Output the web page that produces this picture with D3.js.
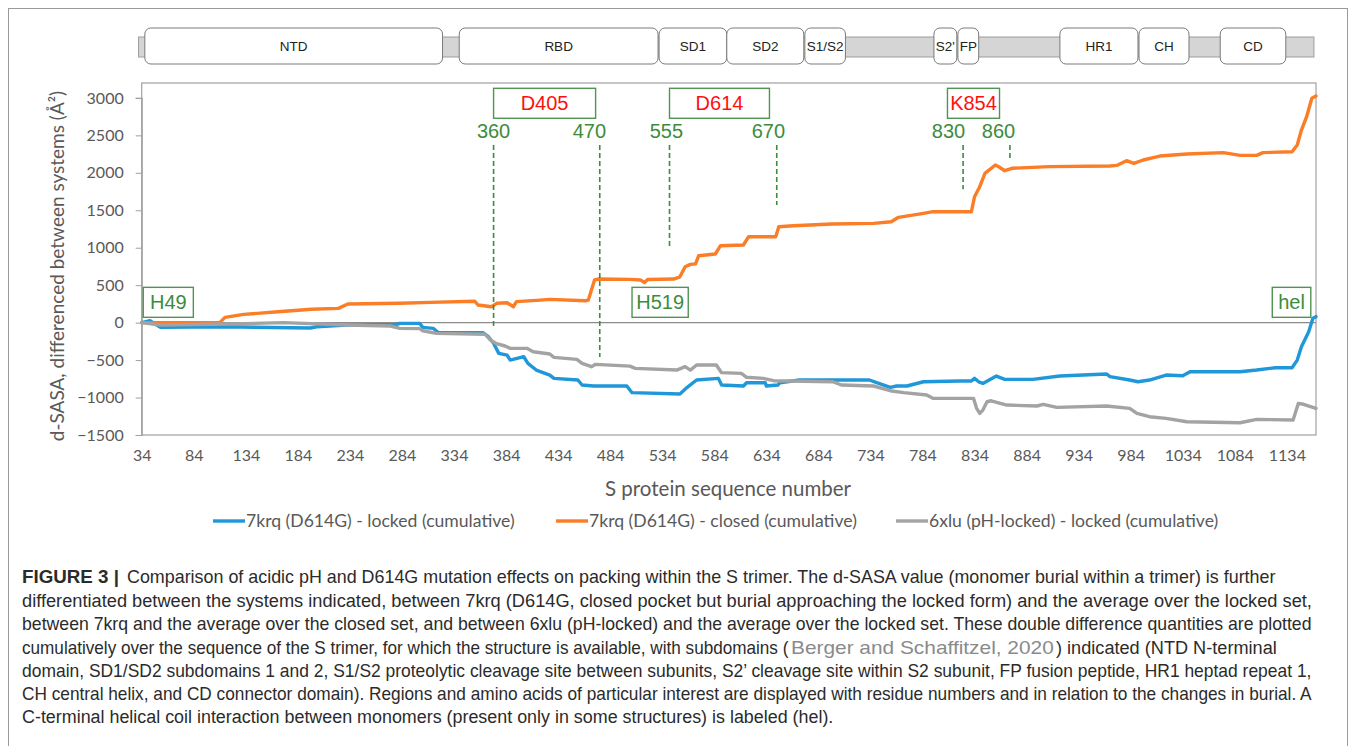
<!DOCTYPE html>
<html>
<head>
<meta charset="utf-8">
<script src="https://cdn.jsdelivr.net/npm/d3@7"></script>
<style>
  html, body { margin: 0; padding: 0; background: #fff; }
  svg { display: block; }
</style>
</head>
<body>
<svg id="fig" width="1355" height="746"></svg>
<script>
// ---- Axis ticks ----
const xTicks = [34, 84, 134, 184, 234, 284, 334, 384, 434, 484, 534, 584, 634, 684, 734, 784, 834, 884, 934, 984, 1034, 1084, 1134];
const yTicks = [-1500, -1000, -500, 0, 500, 1000, 1500, 2000, 2500, 3000];

// ---- Cumulative d-SASA series (axis position, value) ----
const lockedPos = [34, 42, 52, 114, 196, 202, 231, 279, 282, 301, 304, 314, 319, 362, 367, 372, 377, 385, 388, 401, 405, 413, 426, 430, 453, 457, 468, 500, 505, 551, 558, 567, 588, 591, 612, 615, 633, 634, 645, 647, 666, 733, 740, 753, 759, 769, 785, 820, 831, 834, 838, 842, 855, 863, 890, 916, 961, 964, 983, 991, 1002, 1018, 1034, 1041, 1089, 1105, 1123, 1139, 1144, 1148, 1155, 1159, 1162];
const lockedVal = [0, 25, -63, -55, -72, -55, -32, -23, -10, -10, -63, -76, -135, -135, -188, -276, -410, -433, -500, -455, -543, -633, -700, -744, -766, -833, -846, -846, -935, -953, -864, -766, -744, -833, -846, -802, -802, -846, -833, -802, -766, -766, -802, -864, -846, -846, -789, -780, -780, -744, -790, -811, -713, -757, -757, -713, -686, -720, -766, -789, -766, -700, -710, -655, -655, -633, -602, -602, -500, -322, -121, 57, 80];

const closedPos = [34, 109, 114, 132, 165, 197, 223, 232, 282, 311, 354, 357, 370, 375, 385, 391, 394, 417, 426, 460, 463, 469, 473, 503, 513, 517, 520, 545, 551, 556, 561, 566, 569, 585, 590, 612, 617, 643, 646, 660, 697, 737, 754, 761, 785, 794, 831, 834, 839, 844, 854, 858, 863, 870, 906, 964, 971, 980, 987, 996, 1012, 1038, 1073, 1089, 1105, 1111, 1139, 1144, 1148, 1153, 1158, 1162];
const closedVal = [0, 0, 70, 110, 145, 178, 190, 248, 258, 270, 285, 235, 212, 258, 265, 212, 280, 300, 310, 292, 300, 570, 582, 578, 570, 535, 575, 582, 612, 746, 778, 785, 893, 916, 1027, 1036, 1147, 1147, 1280, 1294, 1316, 1325, 1347, 1406, 1459, 1481, 1481, 1681, 1815, 1993, 2104, 2074, 2028, 2060, 2082, 2091, 2100, 2162, 2127, 2171, 2224, 2251, 2269, 2233, 2233, 2269, 2282, 2371, 2571, 2749, 2995, 3025];

const phLockedPos = [34, 52, 119, 170, 231, 273, 282, 301, 304, 317, 364, 369, 374, 383, 388, 404, 410, 426, 430, 452, 457, 466, 470, 503, 508, 548, 556, 561, 567, 586, 591, 610, 615, 631, 641, 698, 706, 737, 753, 766, 788, 794, 833, 836, 839, 842, 846, 850, 865, 894, 900, 913, 961, 983, 990, 1002, 1018, 1038, 1089, 1105, 1140, 1145, 1150, 1162];
const phLockedVal = [0, -32, -19, 0, -32, -45, -76, -80, -108, -143, -156, -232, -276, -312, -343, -343, -388, -419, -464, -490, -543, -588, -557, -580, -610, -633, -588, -633, -566, -566, -668, -677, -730, -744, -775, -789, -833, -846, -909, -935, -966, -1011, -1011, -1144, -1211, -1167, -1056, -1043, -1100, -1113, -1090, -1131, -1113, -1144, -1211, -1256, -1278, -1323, -1336, -1291, -1300, -1078, -1090, -1144];

const seriesNames = ["7krq (D614G) - locked (cumulative)", "7krq (D614G) - closed (cumulative)", "6xlu (pH-locked) - locked (cumulative)"];
const seriesColors = ["#1f97d9", "#fb7d26", "#a3a3a3"];

// ---- S protein domain map ----
const domainNames = ["NTD", "RBD", "SD1", "SD2", "S1/S2", "S2'", "FP", "HR1", "CH", "CD"];
const domainStart = [37, 339, 531, 596, 671, 795, 818, 916, 992, 1070];
const domainEnd = [323, 530, 596, 670, 710, 817, 838, 991, 1040, 1133];
const chainExtent = [31, 1160];

// ---- Residue markers (dashed guides) ----
const markerLabels = ["360", "470", "555", "670", "830", "860"];
const markerPos = [372, 474, 541, 644, 823, 868];
const markerLabelPos = [372, 464, 538, 636, 809, 857];
const markerLow = [-72, -459, 1013, 1570, 1780, 2194];
const markerHigh = 2371;
const markerLabelVal = 2463;

// ---- Labelled residues / regions ----
const boxLabels = ["H49", "D405", "D614", "K854", "H519", "hel"];
const boxStart = [35.5, 372, 541, 808, 505, 1120];
const boxEnd = [83.6, 470, 637, 858, 559, 1157];
const boxLow = [71, 2728, 2728, 2728, 71, 71];
const boxHigh = [471, 3128, 3128, 3128, 471, 471];
const boxIsMutation = [false, true, true, true, false, false];

// ---- Caption (text runs with their horizontal span) ----
const captionLines = [
  [{t: "FIGURE 3 |", x0: 22, x1: 119, w: "bold"}, {t: "Comparison of acidic pH and D614G mutation effects on packing within the S trimer. The d-SASA value (monomer burial within a trimer) is further", x0: 127, x1: 1276}],
  [{t: "differentiated between the systems indicated, between 7krq (D614G, closed pocket but burial approaching the locked form) and the average over the locked set,", x0: 22, x1: 1312}],
  [{t: "between 7krq and the average over the closed set, and between 6xlu (pH-locked) and the average over the locked set. These double difference quantities are plotted", x0: 22, x1: 1312}],
  [{t: "cumulatively over the sequence of the S trimer, for which the structure is available, with subdomains (", x0: 22, x1: 789}, {t: "Berger and Schaffitzel, 2020", x0: 791, x1: 1054, c: "#8a8a8a"}, {t: ") indicated (NTD N-terminal", x0: 1056, x1: 1277}],
  [{t: "domain, SD1/SD2 subdomains 1 and 2, S1/S2 proteolytic cleavage site between subunits, S2’ cleavage site within S2 subunit, FP fusion peptide, HR1 heptad repeat 1,", x0: 22, x1: 1312}],
  [{t: "CH central helix, and CD connector domain). Regions and amino acids of particular interest are displayed with residue numbers and in relation to the changes in burial. A", x0: 22, x1: 1312}],
  [{t: "C-terminal helical coil interaction between monomers (present only in some structures) is labeled (hel).", x0: 22, x1: 834}]
];

// ---- Layout ----
const svg = d3.select("#fig");
const plot = {left: 141.7, right: 1316, bottom: 435, top: 83};
const x = d3.scaleLinear().domain([34, 1162]).range([plot.left, plot.right]);
const y = d3.scaleLinear().domain([-1500, 3000]).range([plot.bottom, 97.9]);
const axisFont = "Lato, 'Open Sans', sans-serif";
const axisGrey = "#595959";
const green = "#3c8c3c";

// outer figure frame
svg.append("rect").attr("x", 8.5).attr("y", 8.5).attr("width", 1339).attr("height", 760)
  .attr("fill", "none").attr("stroke", "#9a9a9a").attr("stroke-width", 1);

// domain map
const dm = svg.append("g");
dm.append("rect")
  .attr("x", x(chainExtent[0])).attr("width", x(chainExtent[1]) - x(chainExtent[0]))
  .attr("y", 37).attr("height", 20)
  .attr("fill", "#d5d5d5").attr("stroke", "#9c9c9c").attr("stroke-width", 1);
domainNames.forEach((name, i) => {
  const x0 = x(domainStart[i]), x1 = x(domainEnd[i]);
  dm.append("rect").attr("x", x0).attr("width", x1 - x0).attr("y", 28).attr("height", 36)
    .attr("rx", 6).attr("ry", 6)
    .attr("fill", "#fff").attr("stroke", "#7a7a7a").attr("stroke-width", 1);
  dm.append("text").attr("x", (x0 + x1) / 2).attr("y", 51)
    .attr("text-anchor", "middle")
    .attr("font-family", "'Liberation Sans', Arial, sans-serif").attr("font-size", 13.5)
    .attr("fill", "#222").text(name);
});

// plot area border
svg.append("rect").attr("x", plot.left).attr("y", plot.top)
  .attr("width", plot.right - plot.left).attr("height", plot.bottom - plot.top)
  .attr("fill", "none").attr("stroke", "#a0a0a0").attr("stroke-width", 1.2);

// zero line
svg.append("line").attr("x1", plot.left).attr("x2", plot.right)
  .attr("y1", y(0)).attr("y2", y(0)).attr("stroke", "#8c8c8c").attr("stroke-width", 1.2);

// axes
const gy = svg.append("g").attr("transform", `translate(${plot.left},0)`)
  .call(d3.axisLeft(y).tickValues(yTicks).tickSize(6).tickPadding(12).tickFormat(d3.format("d")));
gy.select(".domain").attr("stroke", "#a0a0a0").attr("stroke-width", 1.2);
gy.selectAll(".tick line").attr("stroke", "#a0a0a0");
gy.selectAll("text").attr("font-family", axisFont).attr("font-size", 16).attr("fill", axisGrey);

const gx = svg.append("g").attr("transform", `translate(0,${plot.bottom})`)
  .call(d3.axisBottom(x).tickValues(xTicks).tickSize(0).tickPadding(15).tickFormat(d3.format("d")));
gx.select(".domain").remove();
gx.selectAll("text").attr("font-family", axisFont).attr("font-size", 16).attr("fill", axisGrey);

// axis titles
svg.append("text").attr("transform", `translate(64,${(plot.bottom + 97) / 2}) rotate(-90)`)
  .attr("text-anchor", "middle").attr("font-family", axisFont).attr("font-size", 19)
  .attr("fill", axisGrey).text("d-SASA, differenced between systems (Å²)");
svg.append("text").attr("x", 728).attr("y", 496).attr("text-anchor", "middle")
  .attr("font-family", axisFont).attr("font-size", 20.5).attr("fill", axisGrey)
  .text("S protein sequence number");

// series
const series = [
  {pos: lockedPos, val: lockedVal},
  {pos: closedPos, val: closedVal},
  {pos: phLockedPos, val: phLockedVal}
];
const line = d3.line().x(d => x(d[0])).y(d => y(d[1]));
series.forEach((s, i) => {
  svg.append("path")
    .datum(s.pos.map((p, k) => [p, s.val[k]]))
    .attr("d", line).attr("fill", "none")
    .attr("stroke", seriesColors[i]).attr("stroke-width", 3.4)
    .attr("stroke-linejoin", "round").attr("stroke-linecap", "round");
});

// dashed residue guides
const annFont = "'Liberation Sans', Arial, sans-serif";
markerLabels.forEach((lab, i) => {
  svg.append("line").attr("x1", x(markerPos[i])).attr("x2", x(markerPos[i]))
    .attr("y1", y(markerHigh)).attr("y2", y(markerLow[i]))
    .attr("stroke", green).attr("stroke-width", 1.6).attr("stroke-dasharray", "5,3");
  svg.append("text").attr("x", x(markerLabelPos[i])).attr("y", y(markerLabelVal))
    .attr("text-anchor", "middle").attr("font-family", annFont).attr("font-size", 20)
    .attr("fill", green).text(lab);
});

// labelled boxes
boxLabels.forEach((lab, i) => {
  const x0 = x(boxStart[i]), x1 = x(boxEnd[i]), y0 = y(boxHigh[i]), y1 = y(boxLow[i]);
  svg.append("rect").attr("x", x0).attr("y", y0).attr("width", x1 - x0).attr("height", y1 - y0)
    .attr("fill", "#fff").attr("stroke", "#4f944f").attr("stroke-width", 1.4);
  svg.append("text").attr("x", (x0 + x1) / 2).attr("y", (y0 + y1) / 2 + 7)
    .attr("text-anchor", "middle").attr("font-family", annFont).attr("font-size", 20)
    .attr("fill", boxIsMutation[i] ? "#ff1010" : green).text(lab);
});

// legend
const legendX = [213, 556, 896];
seriesNames.forEach((name, i) => {
  svg.append("line").attr("x1", legendX[i]).attr("x2", legendX[i] + 32)
    .attr("y1", 521).attr("y2", 521).attr("stroke", seriesColors[i]).attr("stroke-width", 3.4);
  svg.append("text").attr("x", legendX[i] + 33).attr("y", 527)
    .attr("font-family", axisFont).attr("font-size", 17.6).attr("fill", axisGrey).text(name);
});

// caption: each run is squeezed horizontally to its column span
const capBase = [583, 607, 630, 654, 677, 700, 723];
captionLines.forEach((segs, li) => {
  segs.forEach(s => {
    const t = svg.append("text").attr("x", 0).attr("y", 0)
      .attr("font-family", "'Liberation Sans', Arial, sans-serif").attr("font-size", 18)
      .attr("font-weight", s.w || "normal").attr("fill", s.c || "#2b2b2b")
      .text(s.t);
    const natural = t.node().getComputedTextLength();
    const sx = (s.x1 - s.x0) / natural;
    t.attr("transform", `translate(${s.x0},${capBase[li]}) scale(${sx},1)`);
  });
});
</script>
</body>
</html>
